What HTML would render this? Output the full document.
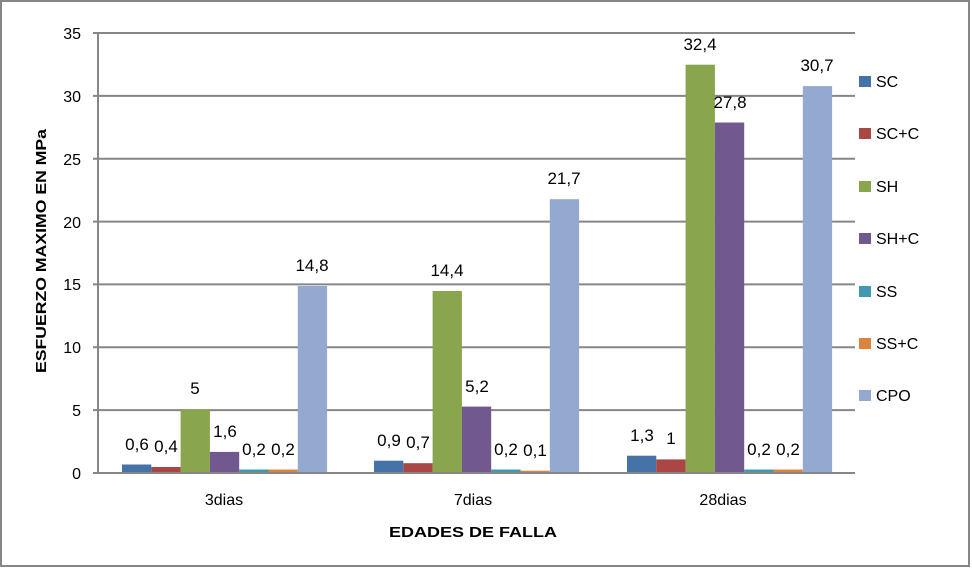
<!DOCTYPE html>
<html><head><meta charset="utf-8"><style>
html,body{margin:0;padding:0;background:#fff;}
svg{display:block;font-family:"Liberation Sans",sans-serif;}
</style></head><body>
<svg width="972" height="569" viewBox="0 0 972 569" xmlns="http://www.w3.org/2000/svg">
<rect x="1" y="1" width="968" height="565" fill="#fff" stroke="#868686" stroke-width="2"/>
<g stroke="#868686" stroke-width="2">
<line x1="93" y1="33" x2="855" y2="33"/>
<line x1="93" y1="95.9" x2="855" y2="95.9"/>
<line x1="93" y1="158.7" x2="855" y2="158.7"/>
<line x1="93" y1="221.6" x2="855" y2="221.6"/>
<line x1="93" y1="284.4" x2="855" y2="284.4"/>
<line x1="93" y1="347.3" x2="855" y2="347.3"/>
<line x1="93" y1="410.1" x2="855" y2="410.1"/>
<line x1="93" y1="473" x2="855" y2="473"/>
<line x1="98" y1="33" x2="98" y2="473"/>
</g>
<g font-size="16" fill="#000" text-anchor="end">
<text x="81" y="39">35</text><text x="81" y="102">30</text><text x="81" y="165">25</text>
<text x="81" y="228">20</text><text x="81" y="290">15</text><text x="81" y="353">10</text>
<text x="81" y="416">5</text><text x="81" y="479">0</text>
</g>
<g font-size="16" fill="#000" text-anchor="middle">
<text x="224" y="505">3dias</text><text x="473" y="505">7dias</text><text x="723" y="505">28dias</text>
</g>
<text x="473" y="537" font-size="15" font-weight="bold" text-anchor="middle" textLength="168" lengthAdjust="spacingAndGlyphs">EDADES DE FALLA</text>
<text transform="translate(46,251) rotate(-90)" font-size="15" font-weight="bold" text-anchor="middle" textLength="244" lengthAdjust="spacingAndGlyphs">ESFUERZO MAXIMO EN MPa</text>
<g font-size="16" fill="#000">
<rect x="859" y="76" width="12" height="11" fill="#4573A7"/><text x="876" y="87">SC</text>
<rect x="859" y="128" width="12" height="11" fill="#AA4643"/><text x="876" y="139">SC+C</text>
<rect x="859" y="181" width="12" height="11" fill="#89A54E"/><text x="876" y="192">SH</text>
<rect x="859" y="233" width="12" height="11" fill="#71588F"/><text x="876" y="244">SH+C</text>
<rect x="859" y="286" width="12" height="11" fill="#4198AF"/><text x="876" y="297">SS</text>
<rect x="859" y="338" width="12" height="11" fill="#DB843D"/><text x="876" y="349">SS+C</text>
<rect x="859" y="390" width="12" height="11" fill="#93A9CF"/><text x="876" y="401">CPO</text>
</g>
<rect x="122" y="464.5" width="29.3" height="7.5" fill="#4573A7"/>
<rect x="151.3" y="467" width="29.3" height="5" fill="#AA4643"/>
<rect x="180.6" y="409.2" width="29.3" height="62.8" fill="#89A54E"/>
<rect x="209.9" y="451.9" width="29.3" height="20.1" fill="#71588F"/>
<rect x="239.2" y="469.5" width="29.3" height="2.5" fill="#4198AF"/>
<rect x="268.5" y="469.5" width="29.3" height="2.5" fill="#DB843D"/>
<rect x="297.8" y="286" width="29.3" height="186" fill="#93A9CF"/>
<rect x="374" y="460.7" width="29.3" height="11.3" fill="#4573A7"/>
<rect x="403.3" y="463.2" width="29.3" height="8.8" fill="#AA4643"/>
<rect x="432.6" y="291" width="29.3" height="181" fill="#89A54E"/>
<rect x="461.9" y="406.6" width="29.3" height="65.4" fill="#71588F"/>
<rect x="491.2" y="469.5" width="29.3" height="2.5" fill="#4198AF"/>
<rect x="520.5" y="470.7" width="29.3" height="1.3" fill="#DB843D"/>
<rect x="549.8" y="199.2" width="29.3" height="272.8" fill="#93A9CF"/>
<rect x="627" y="455.7" width="29.3" height="16.3" fill="#4573A7"/>
<rect x="656.3" y="459.4" width="29.3" height="12.6" fill="#AA4643"/>
<rect x="685.6" y="64.7" width="29.3" height="407.3" fill="#89A54E"/>
<rect x="714.9" y="122.5" width="29.3" height="349.5" fill="#71588F"/>
<rect x="744.2" y="469.5" width="29.3" height="2.5" fill="#4198AF"/>
<rect x="773.5" y="469.5" width="29.3" height="2.5" fill="#DB843D"/>
<rect x="802.8" y="86.1" width="29.3" height="385.9" fill="#93A9CF"/>
<g font-size="17" fill="#000" text-anchor="middle">
<text x="137" y="450">0,6</text><text x="166" y="452">0,4</text><text x="195" y="394">5</text>
<text x="225" y="437">1,6</text><text x="254" y="455">0,2</text><text x="283" y="455">0,2</text>
<text x="312" y="271">14,8</text>
<text x="389" y="446">0,9</text><text x="418" y="448">0,7</text><text x="447" y="276">14,4</text>
<text x="477" y="392">5,2</text><text x="506" y="455">0,2</text><text x="535" y="456">0,1</text>
<text x="564" y="184">21,7</text>
<text x="642" y="441">1,3</text><text x="671" y="444">1</text><text x="700" y="50">32,4</text>
<text x="730" y="108">27,8</text><text x="759" y="455">0,2</text><text x="788" y="455">0,2</text>
<text x="817" y="71">30,7</text>
</g>
</svg>
</body></html>
